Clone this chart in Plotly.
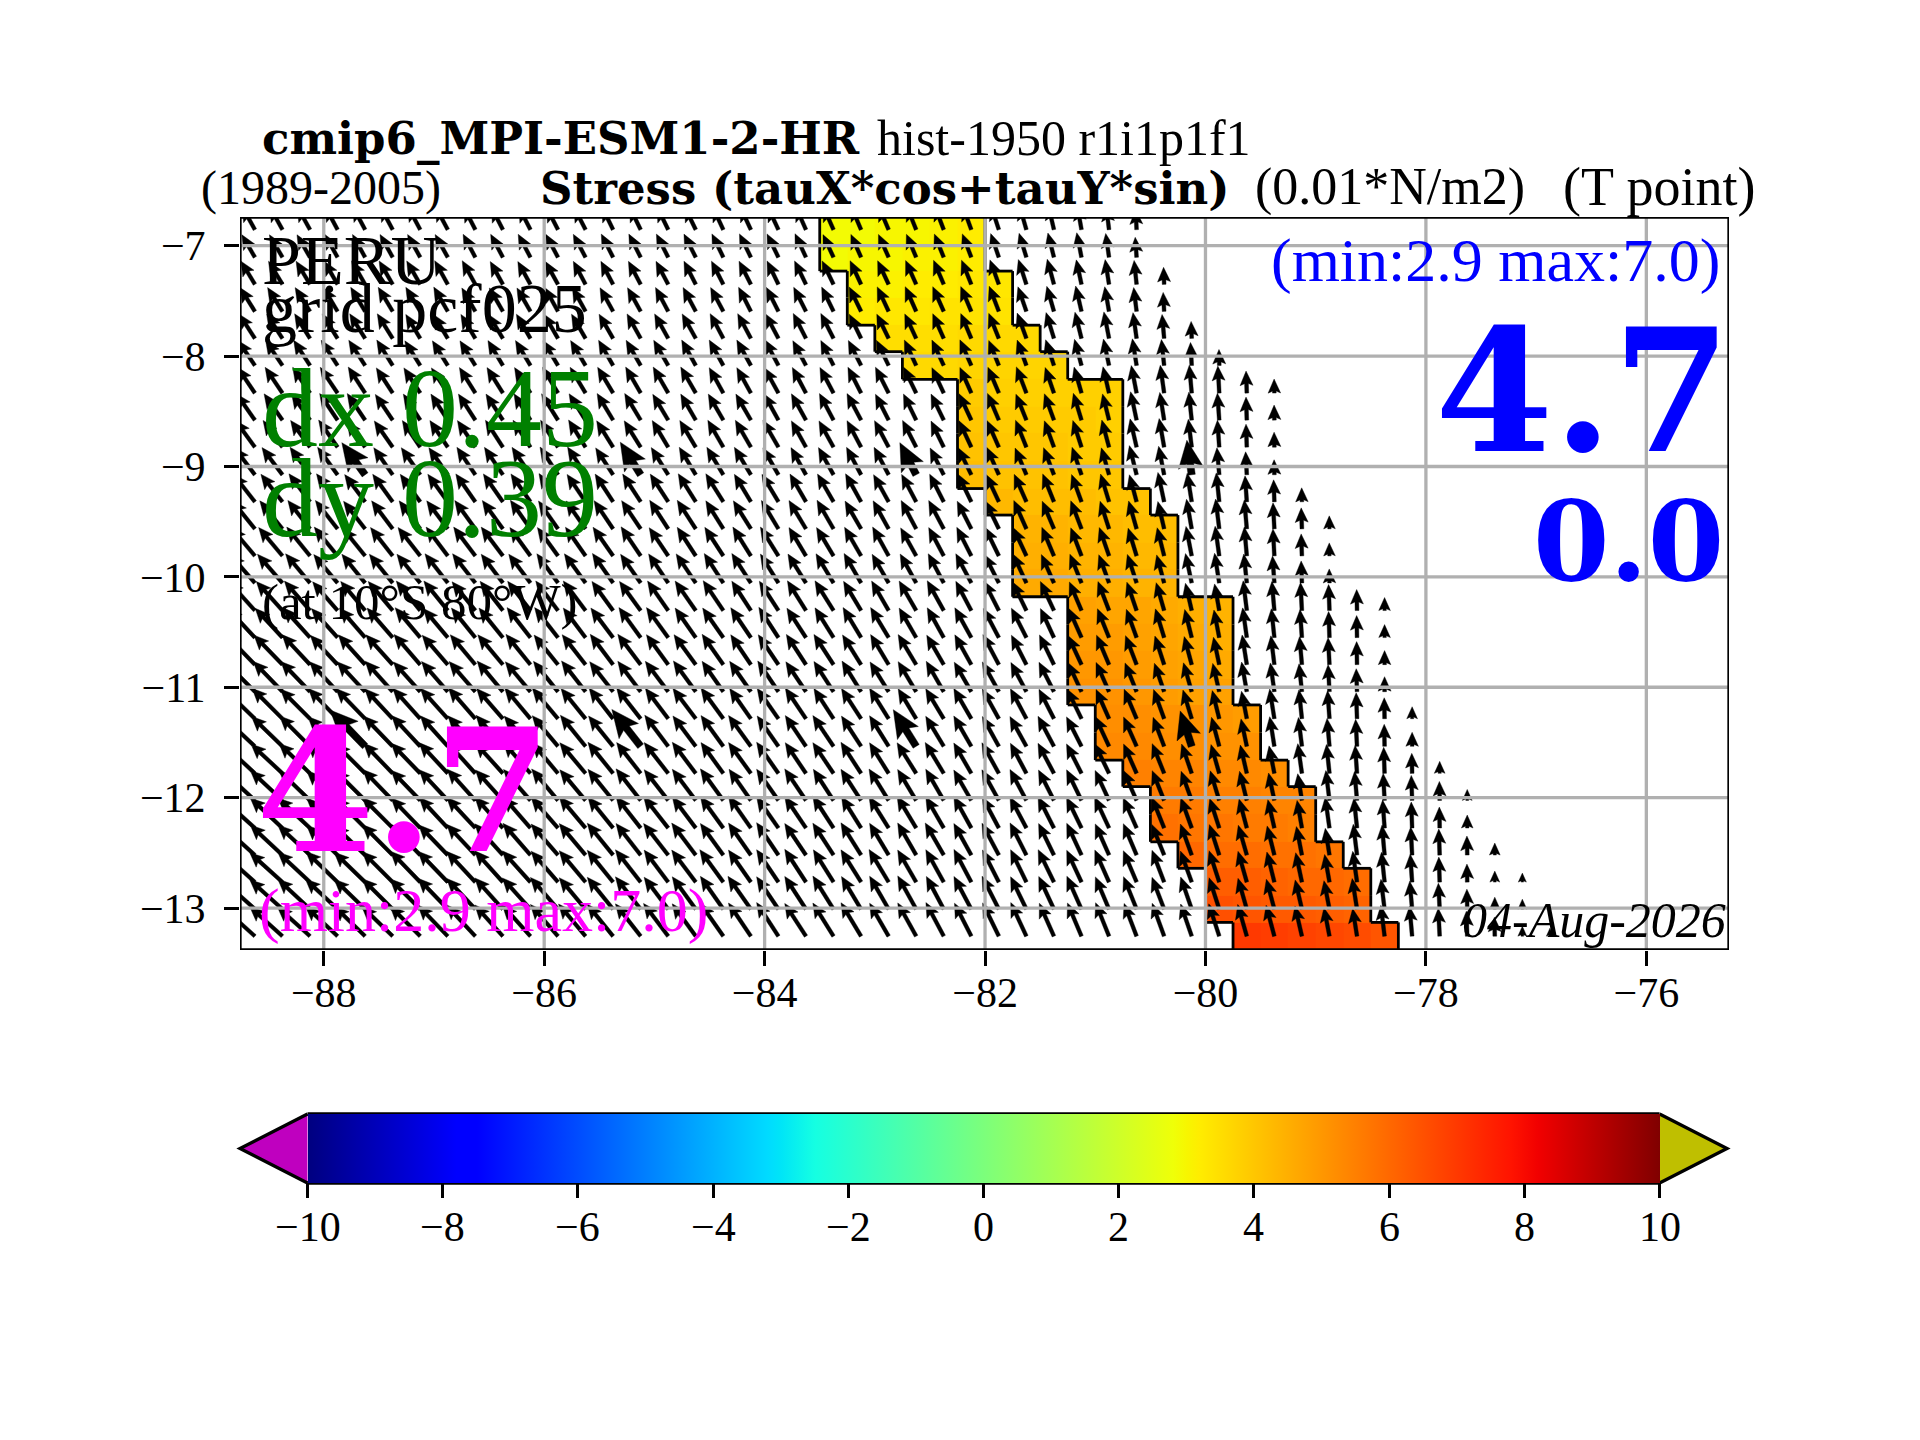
import math
import plotly.graph_objects as go

FW, FH = 1920, 1440
L, R, T, B = 240, 1729, 217, 950
PX_PER_DEG = 110.25
SERIF = "Liberation Serif"
SERIF_BOLD = "DejaVu Serif"

x_ticks = [-88, -86, -84, -82, -80, -78, -76]
y_ticks = [-7, -8, -9, -10, -11, -12, -13]
cbar_ticks = [-10, -8, -6, -4, -2, 0, 2, 4, 6, 8, 10]

x_range = [-88.76, -75.25]
y_range = [-13.38, -6.74]

# T point grid of the region
lon_first = -88.625
lon_step = 0.25
lat_edges = [-6.73, -6.98, -7.23, -7.47, -7.72, -7.96, -8.21, -8.46, -8.70, -8.95, -9.20, -9.44, -9.69, -9.93,
             -10.18, -10.43, -10.67, -10.92, -11.16, -11.41, -11.66, -11.90, -12.15, -12.40, -12.64, -12.89,
             -13.13, -13.38]

# coastal strip: west edge of the six cells in each band, and the stress in them
strip_west = [-83.5, -83.5, -83.25, -83.25, -83.0, -82.75, -82.25, -82.25, -82.25, -82.25, -82.0, -81.75, -81.75,
              -81.75, -81.25, -81.25, -81.25, -81.25, -81.0, -81.0, -80.75, -80.5, -80.5, -80.25, -80.0, -80.0,
              -79.75]
strip_z = [
    [2.9, 2.9, 3.0, 3.0, 3.1, 3.2],
    [2.9, 3.0, 3.0, 3.1, 3.1, 3.2],
    [3.1, 3.1, 3.2, 3.2, 3.3, 3.3],
    [3.2, 3.3, 3.3, 3.4, 3.4, 3.4],
    [3.5, 3.5, 3.5, 3.6, 3.6, 3.6],
    [3.6, 3.6, 3.7, 3.7, 3.7, 3.7],
    [3.9, 3.8, 3.8, 3.8, 3.8, 3.8],
    [4.0, 3.9, 3.9, 3.9, 3.9, 3.8],
    [4.1, 4.0, 4.0, 4.0, 3.9, 3.9],
    [4.2, 4.1, 4.1, 4.1, 4.0, 4.0],
    [4.3, 4.2, 4.2, 4.2, 4.1, 4.1],
    [4.4, 4.4, 4.3, 4.3, 4.2, 4.2],
    [4.5, 4.5, 4.4, 4.4, 4.3, 4.3],
    [4.6, 4.6, 4.5, 4.5, 4.4, 4.4],
    [4.8, 4.7, 4.7, 4.6, 4.5, 4.4],
    [4.9, 4.9, 4.8, 4.7, 4.6, 4.5],
    [5.0, 5.0, 4.9, 4.8, 4.7, 4.6],
    [5.1, 5.1, 5.0, 4.9, 4.8, 4.8],
    [5.2, 5.2, 5.1, 5.1, 5.0, 4.9],
    [5.3, 5.3, 5.2, 5.2, 5.1, 5.1],
    [5.5, 5.4, 5.4, 5.3, 5.3, 5.2],
    [5.6, 5.6, 5.5, 5.5, 5.4, 5.4],
    [5.8, 5.7, 5.7, 5.6, 5.6, 5.5],
    [6.0, 5.9, 5.9, 5.8, 5.8, 5.7],
    [6.2, 6.2, 6.1, 6.0, 6.0, 5.9],
    [6.5, 6.4, 6.3, 6.3, 6.2, 6.1],
    [7.0, 6.9, 6.8, 6.7, 6.6, 6.4],
]

# stress arrows, one row per band, first value in the westernmost column: direction west of north
arrow_angle = [
    [29, 29, 29, 28, 28, 28, 28, 28, 27, 27, 27, 27, 27, 26, 26, 26, 26, 25, 25, 25, 24, 24, 23, 23, 22, 21, 20, 18, 16, 13, 10, 7, 3],
    [30, 30, 30, 29, 29, 29, 29, 29, 28, 28, 28, 28, 28, 27, 27, 27, 27, 26, 26, 26, 25, 25, 24, 24, 23, 22, 21, 19, 17, 14, 11, 8, 4],
    [31, 31, 31, 30, 30, 30, 30, 29, 29, 29, 29, 29, 28, 28, 28, 28, 27, 27, 27, 26, 26, 26, 25, 25, 24, 23, 22, 20, 18, 15, 12, 9, 6, 2],
    [32, 32, 32, 31, 31, 31, 31, 30, 30, 30, 30, 29, 29, 29, 29, 28, 28, 28, 27, 27, 27, 26, 26, 25, 24, 24, 23, 21, 19, 16, 13, 10, 7, 3],
    [33, 33, 32, 32, 32, 32, 31, 31, 31, 31, 30, 30, 30, 30, 29, 29, 29, 28, 28, 28, 27, 27, 26, 26, 25, 24, 23, 22, 20, 17, 14, 11, 8, 5, 2],
    [34, 34, 33, 33, 33, 32, 32, 32, 32, 31, 31, 31, 31, 30, 30, 30, 29, 29, 29, 28, 28, 27, 27, 26, 25, 25, 24, 22, 20, 18, 15, 12, 9, 6, 3, 1],
    [34, 34, 34, 34, 33, 33, 33, 33, 32, 32, 32, 31, 31, 31, 30, 30, 30, 29, 29, 29, 28, 28, 27, 27, 26, 25, 24, 23, 21, 19, 16, 13, 11, 8, 5, 3, 2, 1],
    [35, 35, 35, 34, 34, 34, 33, 33, 33, 33, 32, 32, 32, 31, 31, 31, 30, 30, 30, 29, 29, 28, 28, 27, 26, 26, 25, 23, 22, 20, 17, 14, 12, 9, 6, 4, 2, 1],
    [36, 36, 36, 35, 35, 35, 34, 34, 34, 33, 33, 33, 32, 32, 32, 31, 31, 30, 30, 30, 29, 29, 28, 28, 27, 26, 25, 24, 22, 20, 18, 15, 13, 10, 7, 4, 2, 1],
    [37, 37, 36, 36, 36, 35, 35, 35, 34, 34, 34, 33, 33, 33, 32, 32, 31, 31, 31, 30, 29, 29, 28, 28, 27, 27, 26, 24, 23, 21, 19, 16, 14, 11, 8, 5, 3, 1],
    [38, 38, 37, 37, 37, 36, 36, 36, 35, 35, 35, 34, 34, 33, 33, 33, 32, 32, 31, 31, 30, 30, 29, 29, 28, 27, 26, 25, 24, 22, 20, 17, 15, 12, 9, 6, 4, 2, 1],
    [39, 39, 38, 38, 38, 37, 37, 37, 36, 36, 35, 35, 35, 34, 34, 33, 33, 32, 32, 31, 31, 30, 30, 29, 28, 28, 27, 26, 24, 23, 21, 18, 16, 13, 10, 7, 5, 3, 2, 1],
    [40, 40, 39, 39, 39, 38, 38, 37, 37, 37, 36, 36, 35, 35, 34, 34, 33, 33, 32, 32, 31, 31, 30, 29, 29, 28, 27, 26, 25, 23, 21, 19, 17, 14, 11, 8, 5, 3, 2, 1],
    [41, 41, 40, 40, 39, 39, 39, 38, 38, 37, 37, 36, 36, 35, 35, 34, 34, 33, 33, 32, 32, 31, 30, 30, 29, 28, 28, 27, 25, 24, 22, 20, 18, 15, 12, 9, 6, 4, 2, 1],
    [42, 42, 41, 41, 40, 40, 39, 39, 39, 38, 38, 37, 37, 36, 36, 35, 35, 34, 33, 33, 32, 32, 31, 30, 30, 29, 28, 27, 26, 25, 23, 21, 19, 16, 13, 10, 7, 5, 3, 2, 1, 0],
    [43, 43, 42, 42, 41, 41, 40, 40, 39, 39, 38, 38, 37, 37, 36, 36, 35, 35, 34, 33, 33, 32, 31, 31, 30, 29, 29, 28, 27, 25, 24, 22, 20, 17, 14, 11, 8, 6, 4, 2, 1, 0],
    [44, 44, 43, 43, 42, 42, 41, 41, 40, 40, 39, 39, 38, 37, 37, 36, 36, 35, 34, 34, 33, 33, 32, 31, 31, 30, 29, 28, 27, 26, 25, 23, 21, 18, 15, 12, 9, 7, 5, 3, 1, 0],
    [45, 44, 44, 43, 43, 42, 42, 41, 41, 40, 40, 39, 38, 38, 37, 37, 36, 35, 35, 34, 34, 33, 32, 32, 31, 30, 30, 29, 28, 27, 25, 24, 22, 19, 16, 13, 10, 8, 6, 3, 2, 0],
    [46, 45, 45, 44, 44, 43, 42, 42, 41, 41, 40, 40, 39, 38, 38, 37, 37, 36, 35, 35, 34, 33, 33, 32, 31, 31, 30, 29, 28, 27, 26, 24, 23, 20, 17, 14, 11, 9, 6, 4, 2, 1, 0],
    [47, 46, 45, 45, 44, 44, 43, 42, 42, 41, 41, 40, 39, 39, 38, 37, 37, 36, 36, 35, 34, 34, 33, 32, 32, 31, 30, 29, 29, 28, 27, 25, 24, 21, 18, 15, 12, 9, 7, 5, 3, 1, 0],
    [47, 47, 46, 45, 45, 44, 44, 43, 42, 42, 41, 40, 40, 39, 38, 38, 37, 36, 36, 35, 34, 34, 33, 32, 32, 31, 30, 29, 28, 28, 27, 26, 24, 22, 19, 16, 13, 11, 8, 6, 4, 2, 1, 0],
    [47, 47, 46, 46, 45, 44, 44, 43, 42, 42, 41, 40, 40, 39, 38, 38, 37, 36, 35, 35, 34, 33, 33, 32, 31, 30, 30, 29, 28, 27, 26, 25, 24, 22, 20, 17, 14, 12, 9, 7, 5, 3, 2, 1, 0],
    [48, 47, 47, 46, 45, 45, 44, 43, 43, 42, 41, 41, 40, 39, 38, 38, 37, 36, 35, 35, 34, 33, 32, 32, 31, 30, 29, 28, 28, 27, 26, 25, 24, 22, 20, 18, 15, 13, 10, 8, 6, 4, 2, 1, 0],
    [48, 47, 47, 46, 46, 45, 44, 44, 43, 42, 41, 41, 40, 39, 38, 38, 37, 36, 35, 34, 34, 33, 32, 31, 30, 30, 29, 28, 27, 26, 25, 24, 23, 22, 20, 18, 16, 14, 11, 9, 7, 5, 3, 2, 1, 0],
    [48, 48, 47, 46, 46, 45, 44, 44, 43, 42, 42, 41, 40, 39, 38, 37, 37, 36, 35, 34, 33, 32, 32, 31, 30, 29, 28, 27, 26, 26, 25, 24, 23, 21, 20, 18, 16, 14, 12, 10, 8, 6, 4, 2, 1, 0, 0],
    [48, 48, 47, 47, 46, 45, 45, 44, 43, 42, 42, 41, 40, 39, 38, 37, 36, 35, 35, 34, 33, 32, 31, 30, 29, 28, 28, 27, 26, 25, 24, 23, 22, 21, 19, 18, 16, 15, 13, 11, 9, 7, 5, 3, 1, 0, 0],
    [48, 48, 48, 47, 46, 46, 45, 44, 43, 42, 42, 41, 40, 39, 38, 37, 36, 35, 34, 33, 33, 32, 31, 30, 29, 28, 27, 26, 25, 24, 23, 22, 21, 20, 19, 18, 16, 15, 13, 11, 9, 7, 5, 3, 2, 1, 0, 0],
]
# same rows: arrow length
arrow_len = [
    [26, 26, 26, 26, 26, 26, 26, 26, 25, 25, 25, 25, 25, 25, 25, 25, 25, 25, 25, 25, 25, 25, 25, 25, 25, 25, 25, 25, 25, 25, 24, 23, 20],
    [26, 26, 26, 26, 26, 26, 26, 26, 26, 26, 26, 26, 26, 26, 26, 26, 26, 26, 26, 26, 26, 25, 25, 25, 25, 25, 25, 25, 25, 25, 25, 24, 20],
    [27, 27, 27, 27, 27, 27, 27, 27, 27, 26, 26, 26, 26, 26, 26, 26, 26, 26, 26, 26, 26, 26, 26, 26, 26, 26, 26, 26, 26, 26, 25, 25, 24, 17],
    [28, 28, 28, 28, 28, 28, 28, 28, 27, 27, 27, 27, 27, 27, 27, 27, 27, 27, 27, 27, 27, 27, 27, 27, 27, 27, 27, 27, 26, 26, 26, 25, 24, 19],
    [29, 29, 29, 29, 29, 29, 28, 28, 28, 28, 28, 28, 28, 28, 28, 28, 28, 28, 28, 28, 28, 28, 27, 27, 27, 27, 27, 27, 27, 27, 27, 27, 26, 24, 17],
    [30, 30, 30, 30, 30, 30, 29, 29, 29, 29, 29, 29, 29, 29, 29, 29, 29, 29, 29, 29, 28, 28, 28, 28, 28, 28, 28, 27, 27, 27, 27, 27, 27, 26, 23, 16],
    [31, 31, 31, 31, 31, 30, 30, 30, 30, 30, 30, 30, 30, 30, 30, 30, 30, 29, 29, 29, 29, 29, 29, 29, 29, 28, 28, 28, 28, 27, 27, 27, 28, 28, 28, 27, 22, 14],
    [32, 32, 32, 32, 32, 31, 31, 31, 31, 31, 31, 31, 31, 31, 31, 30, 30, 30, 30, 30, 30, 30, 30, 29, 29, 29, 29, 29, 28, 28, 28, 27, 29, 28, 28, 27, 23, 15],
    [33, 33, 33, 33, 32, 32, 32, 32, 32, 32, 32, 32, 32, 31, 31, 31, 31, 31, 31, 31, 30, 30, 30, 30, 30, 29, 29, 29, 29, 28, 28, 28, 29, 29, 28, 27, 23, 15],
    [34, 34, 34, 34, 33, 33, 33, 33, 33, 33, 33, 33, 33, 32, 32, 32, 32, 32, 32, 31, 31, 31, 31, 31, 30, 30, 30, 30, 29, 29, 29, 28, 30, 29, 29, 27, 23, 15],
    [35, 35, 35, 35, 34, 34, 34, 34, 34, 34, 34, 34, 33, 33, 33, 33, 33, 33, 32, 32, 32, 32, 32, 31, 31, 31, 31, 30, 30, 30, 29, 29, 28, 30, 29, 29, 26, 22, 14],
    [36, 36, 36, 36, 35, 35, 35, 35, 35, 35, 35, 34, 34, 34, 34, 34, 34, 33, 33, 33, 33, 33, 32, 32, 32, 32, 31, 31, 31, 30, 30, 29, 29, 28, 30, 30, 29, 26, 21, 13],
    [37, 37, 37, 37, 36, 36, 36, 36, 36, 36, 35, 35, 35, 35, 35, 34, 34, 34, 34, 34, 33, 33, 33, 33, 32, 32, 32, 32, 31, 31, 30, 30, 29, 29, 30, 30, 29, 27, 22, 13],
    [38, 38, 38, 37, 37, 37, 37, 37, 37, 36, 36, 36, 36, 36, 35, 35, 35, 35, 35, 34, 34, 34, 34, 33, 33, 33, 33, 32, 32, 31, 31, 30, 30, 29, 30, 30, 29, 27, 22, 14],
    [39, 39, 39, 38, 38, 38, 38, 38, 37, 37, 37, 37, 37, 36, 36, 36, 36, 36, 35, 35, 35, 35, 34, 34, 34, 34, 33, 33, 32, 32, 31, 31, 30, 29, 28, 27, 30, 29, 28, 26, 21, 13],
    [40, 40, 40, 39, 39, 39, 39, 38, 38, 38, 38, 38, 37, 37, 37, 37, 36, 36, 36, 36, 35, 35, 35, 35, 34, 34, 34, 33, 33, 32, 32, 31, 30, 30, 29, 28, 30, 29, 28, 26, 22, 13],
    [41, 41, 41, 40, 40, 40, 40, 39, 39, 39, 39, 38, 38, 38, 38, 37, 37, 37, 36, 36, 36, 36, 35, 35, 35, 34, 34, 34, 33, 33, 32, 32, 31, 30, 29, 28, 30, 29, 28, 27, 23, 14],
    [42, 42, 42, 41, 41, 41, 40, 40, 40, 40, 39, 39, 39, 38, 38, 38, 38, 37, 37, 37, 36, 36, 36, 35, 35, 35, 34, 34, 33, 33, 32, 32, 31, 30, 30, 29, 30, 29, 28, 27, 23, 15],
    [43, 43, 42, 42, 42, 41, 41, 41, 41, 40, 40, 40, 39, 39, 39, 38, 38, 38, 37, 37, 37, 36, 36, 36, 35, 35, 35, 34, 34, 33, 33, 32, 32, 31, 30, 29, 28, 30, 29, 28, 26, 21, 12],
    [43, 43, 43, 42, 42, 42, 42, 41, 41, 41, 40, 40, 40, 39, 39, 39, 38, 38, 38, 37, 37, 37, 36, 36, 36, 35, 35, 34, 34, 34, 33, 33, 32, 31, 31, 30, 28, 30, 29, 28, 27, 22, 14],
    [44, 43, 43, 43, 42, 42, 42, 42, 41, 41, 41, 40, 40, 40, 39, 39, 39, 38, 38, 38, 37, 37, 37, 36, 36, 36, 35, 35, 34, 34, 33, 33, 32, 32, 31, 30, 29, 28, 30, 29, 28, 26, 20, 12],
    [44, 44, 43, 43, 43, 43, 42, 42, 42, 41, 41, 41, 40, 40, 40, 39, 39, 39, 38, 38, 38, 37, 37, 37, 36, 36, 35, 35, 35, 34, 34, 33, 33, 32, 31, 31, 30, 28, 27, 30, 29, 27, 25, 19, 11],
    [44, 44, 44, 43, 43, 43, 42, 42, 42, 42, 41, 41, 41, 40, 40, 40, 39, 39, 39, 38, 38, 38, 37, 37, 37, 36, 36, 35, 35, 35, 34, 34, 33, 33, 32, 31, 30, 29, 28, 31, 30, 28, 26, 21, 13],
    [44, 44, 44, 43, 43, 43, 43, 42, 42, 42, 42, 41, 41, 41, 40, 40, 40, 39, 39, 39, 38, 38, 38, 37, 37, 37, 36, 36, 36, 35, 35, 34, 34, 33, 33, 32, 31, 30, 29, 27, 31, 30, 28, 26, 19, 12],
    [44, 44, 44, 44, 43, 43, 43, 43, 42, 42, 42, 41, 41, 41, 41, 40, 40, 40, 39, 39, 39, 38, 38, 38, 37, 37, 37, 36, 36, 36, 35, 35, 34, 34, 33, 33, 32, 31, 30, 28, 31, 30, 28, 25, 18, 11, 9],
    [44, 44, 44, 44, 43, 43, 43, 43, 42, 42, 42, 42, 41, 41, 41, 40, 40, 40, 40, 39, 39, 39, 38, 38, 38, 37, 37, 37, 36, 36, 36, 35, 35, 34, 34, 33, 32, 31, 30, 29, 31, 30, 28, 26, 20, 12, 10],
    [44, 44, 44, 44, 43, 43, 43, 43, 43, 42, 42, 42, 42, 41, 41, 41, 40, 40, 40, 40, 39, 39, 39, 38, 38, 38, 37, 37, 37, 36, 36, 36, 35, 35, 34, 34, 33, 32, 31, 29, 28, 31, 30, 28, 25, 19, 10, 8],
]
# every tenth arrow is drawn heavier
heavy_bands = [9, 19]
heavy_cols = [4, 14, 24, 34]

jet = [[0, "rgb(0,0,128)"], [0.11, "rgb(0,0,255)"], [0.125, "rgb(0,0,255)"], [0.34, "rgb(0,219,255)"],
       [0.35, "rgb(0,229,247)"], [0.375, "rgb(21,255,226)"], [0.64, "rgb(239,255,8)"], [0.65, "rgb(247,246,0)"],
       [0.66, "rgb(255,236,0)"], [0.89, "rgb(255,19,0)"], [0.91, "rgb(241,0,0)"], [1, "rgb(128,0,0)"]]


def arrow_polygon(lon, lat, angle, length, weight=1.0):
    shaft, head_l, notch, head_w = 1.9 * weight, 14.5 * weight, 12.5 * weight, 6.5 * weight
    if length < head_l:
        s = length / head_l
        shaft, head_l, notch, head_w = shaft * s, head_l * s, notch * s, head_w * s
    ux, uy = -math.sin(math.radians(angle)), math.cos(math.radians(angle))
    nx, ny = uy, -ux
    pts = [(0, shaft), (length - notch, shaft), (length - head_l, head_w), (length, 0),
           (length - head_l, -head_w), (length - notch, -shaft), (0, -shaft), (0, shaft)]
    xs = [lon + (a * ux + b * nx) / PX_PER_DEG for a, b in pts]
    ys = [lat + (a * uy + b * ny) / PX_PER_DEG for a, b in pts]
    return xs + [None], ys + [None]


lat_mid = [(lat_edges[i] + lat_edges[i + 1]) / 2 for i in range(len(lat_edges) - 1)]

arrow_x, arrow_y, heavy_x, heavy_y = [], [], [], []
for i in range(len(arrow_angle)):
    for j in range(len(arrow_angle[i])):
        lon = lon_first + lon_step * j
        if i in heavy_bands and j in heavy_cols:
            xs, ys = arrow_polygon(lon, lat_mid[i], arrow_angle[i][j], arrow_len[i][j] * 1.2, 1.9)
            heavy_x += xs
            heavy_y += ys
        else:
            xs, ys = arrow_polygon(lon, lat_mid[i], arrow_angle[i][j], arrow_len[i][j])
            arrow_x += xs
            arrow_y += ys

# regular cell table for the heatmap
west_min = min(strip_west)
n_cols = round((max(strip_west) - west_min) / lon_step) + 6
lon_edges = [west_min + lon_step * k for k in range(n_cols + 1)]
z = [[None] * n_cols for _ in strip_west]
for i, west in enumerate(strip_west):
    for k, val in enumerate(strip_z[i]):
        z[i][round((west - west_min) / lon_step) + k] = val

# outline of the strip
edge_x, edge_y = [], []
for i, west in enumerate(strip_west):
    east = west + 6 * lon_step
    edge_x += [west, west, None, east, east, None]
    edge_y += [lat_edges[i], lat_edges[i + 1], None, lat_edges[i], lat_edges[i + 1], None]
    if i + 1 < len(strip_west):
        nw = strip_west[i + 1]
        edge_x += [west, nw, None, east, nw + 6 * lon_step, None]
        edge_y += [lat_edges[i + 1], lat_edges[i + 1], None, lat_edges[i + 1], lat_edges[i + 1], None]

fig = go.Figure()
fig.add_trace(go.Heatmap(x=lon_edges, y=lat_edges, z=z, zmin=-10, zmax=10, colorscale=jet, hoverinfo="skip",
                         colorbar=dict(orientation="h", x=(307.5 + 1659.6) / 2 / FW, xanchor="center",
                                       y=1 - 1114 / FH, yanchor="top", len=1352, lenmode="pixels", thickness=69,
                                       thicknessmode="pixels", xpad=0, ypad=0, outlinewidth=0,
                                       tickmode="array", tickvals=cbar_ticks, ticktext=[""] * len(cbar_ticks),
                                       ticks="outside", ticklen=15, tickwidth=3.3, tickcolor="black")))
fig.add_trace(go.Scatter(x=edge_x, y=edge_y, mode="lines", line=dict(color="black", width=2.8), hoverinfo="skip",
                         showlegend=False))
fig.add_trace(go.Scatter(x=arrow_x, y=arrow_y, mode="lines", fill="toself", fillcolor="black",
                         line=dict(color="black", width=0.4), hoverinfo="skip", showlegend=False))
fig.add_trace(go.Scatter(x=heavy_x, y=heavy_y, mode="lines", fill="toself", fillcolor="black",
                         line=dict(color="black", width=0.4), hoverinfo="skip", showlegend=False))

shapes = []
for t in x_ticks:
    shapes.append(dict(type="line", xref="x", yref="y", x0=t, x1=t, y0=y_range[0], y1=y_range[1], layer="above",
                       line=dict(color="#b0b0b0", width=3.3)))
for t in y_ticks:
    shapes.append(dict(type="line", xref="x", yref="y", x0=x_range[0], x1=x_range[1], y0=t, y1=t, layer="above",
                       line=dict(color="#b0b0b0", width=3.3)))
shapes.append(dict(type="rect", xref="x", yref="y", x0=x_range[0], x1=x_range[1], y0=y_range[0], y1=y_range[1],
                   layer="above", line=dict(color="black", width=3.3)))

# colorbar frame with its two extend triangles
cb_top, cb_bot, cb_mid = 1 - 1114 / FH, 1 - 1183 / FH, 1 - 1148.5 / FH
for tip, base, color in [(240, 307.5, "#bf00bf"), (1727, 1659.6, "#bfbf00")]:
    shapes.append(dict(type="path", xref="paper", yref="paper", layer="above", fillcolor=color,
                       line=dict(color="black", width=3.3),
                       path=f"M {base / FW} {cb_top} L {tip / FW} {cb_mid} L {base / FW} {cb_bot}"))
for yy in [cb_top, cb_bot]:
    shapes.append(dict(type="line", xref="paper", yref="paper", x0=307.5 / FW, x1=1659.6 / FW, y0=yy, y1=yy,
                       layer="above", line=dict(color="black", width=3.3)))


def label(text, x, base, size, color="black", bold=False, anchor="left", italic=False, family=SERIF):
    s = f"<b>{text}</b>" if bold else text
    s = f"<i>{s}</i>" if italic else s
    # the annotation box is placed by its bottom, which sits below the baseline
    return dict(text=s, xref="paper", yref="paper", x=x / FW, y=1 - (base + 0.215 * size) / FH, xanchor=anchor,
                yanchor="bottom", showarrow=False, borderpad=0, align=anchor,
                font=dict(family=family, size=size, color=color))


annotations = [
    label("cmip6_MPI-ESM1-2-HR", 261, 156, 45, bold=True, family=SERIF_BOLD),
    label("hist-1950 r1i1p1f1", 876, 156, 50),
    label("(1989-2005)", 200, 206, 48),
    label("Stress (tauX*cos+tauY*sin)", 539, 206, 45, bold=True, family=SERIF_BOLD),
    label("(0.01*N/m2)", 1254, 206, 52),
    label("(T point)", 1562, 206, 54),
    label("PERU", 261, 285, 70),
    label("grid pcf025", 261, 333, 70),
    label("dx 0.45", 261, 447, 112, color="green"),
    label("dy 0.39", 261, 537, 112, color="green"),
    label("(at 10°S 80°W)", 261, 620, 51),
    label("4.7", 255, 855, 170, color="magenta", bold=True, family=SERIF_BOLD),
    label("(min:2.9 max:7.0)", 258, 933, 62, color="magenta"),
    label("(min:2.9 max:7.0)", 1721, 283, 62, color="blue", anchor="right"),
    label("4.7", 1732, 455, 170, color="blue", bold=True, anchor="right", family=SERIF_BOLD),
    label("0.0", 1725, 583, 110, color="blue", bold=True, anchor="right", family=SERIF_BOLD),
    label("04-Aug-2026", 1727, 938, 50, italic=True, anchor="right"),
]
for t in cbar_ticks:
    tick_x = 307.5 + (t + 10) / 20 * (1659.6 - 307.5)
    annotations.append(label(str(t).replace("-", "\u2212"), tick_x, 1242, 42, anchor="center"))

axis_font = dict(family=SERIF, size=42, color="black")
fig.update_layout(
    width=FW, height=FH, margin=dict(l=0, r=0, t=0, b=0), plot_bgcolor="white", paper_bgcolor="white",
    showlegend=False, shapes=shapes, annotations=annotations,
    xaxis=dict(domain=[L / FW, R / FW], range=x_range, tickvals=x_ticks, ticks="outside", ticklen=15, tickwidth=3.3,
               tickcolor="black", showgrid=False, zeroline=False, tickfont=axis_font, showline=False,
               ticklabelstandoff=-9),
    yaxis=dict(domain=[1 - B / FH, 1 - T / FH], range=y_range, tickvals=y_ticks, ticks="outside", ticklen=15,
               tickwidth=3.3, tickcolor="black", showgrid=False, zeroline=False, tickfont=axis_font, showline=False,
               ticklabelstandoff=10),
)

fig.write_html("out.html", post_script="document.body.style.margin='0';", config={"displayModeBar": False})
